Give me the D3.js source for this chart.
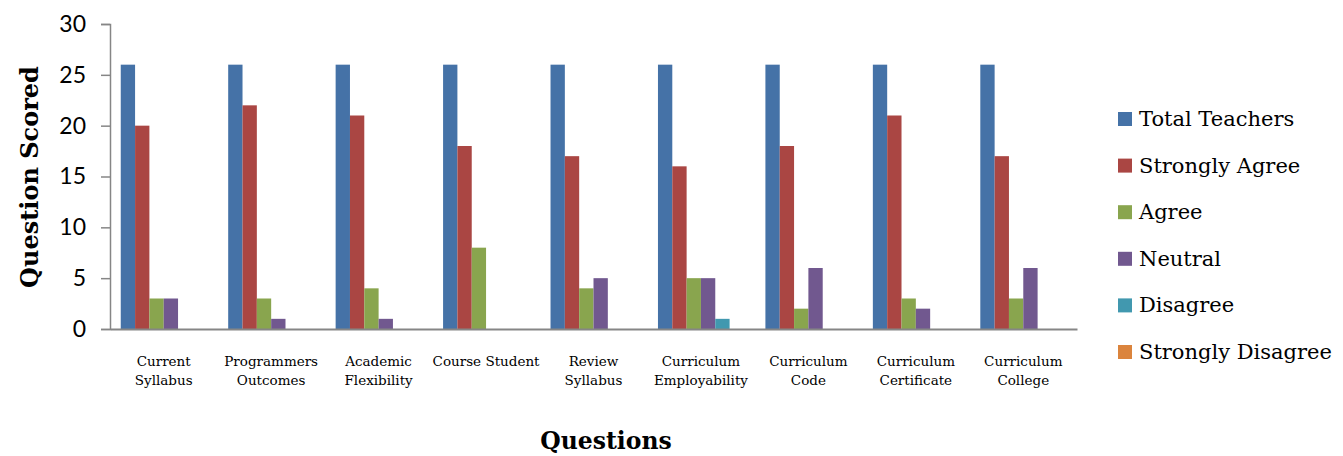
<!DOCTYPE html>
<html><head><meta charset="utf-8">
<script src="https://cdn.jsdelivr.net/npm/d3@7"></script>
<style>body{margin:0;background:#fff}svg{display:block}</style>
</head><body><svg id="c" width="1343" height="456"></svg>
<script>
const categories = [["Current","Syllabus"],["Programmers","Outcomes"],["Academic","Flexibility"],["Course Student"],["Review","Syllabus"],["Curriculum","Employability"],["Curriculum","Code"],["Curriculum","Certificate"],["Curriculum","College"]];
const seriesNames = ["Total Teachers","Strongly Agree","Agree","Neutral","Disagree","Strongly Disagree"];
const totalTeachers = [26,26,26,26,26,26,26,26,26];
const stronglyAgree = [20,22,21,18,17,16,18,21,17];
const agree = [3,3,4,8,4,5,2,3,3];
const neutral = [3,1,1,0,5,5,6,2,6];
const disagree = [0,0,0,0,0,1,0,0,0];
const stronglyDisagree = [0,0,0,0,0,0,0,0,0];
const yTicks = [0,5,10,15,20,25,30];
const colors = ["#4572A7","#AA4643","#89A54E","#71588F","#4198AF","#DB843D"];
const seriesValues = [totalTeachers,stronglyAgree,agree,neutral,disagree,stronglyDisagree];

const svg = d3.select("#c");
const L=110, R=1077, T=24, B=329;
const x0 = d3.scaleBand().domain(d3.range(categories.length)).range([L,R]).padding(0);
const bw = x0.bandwidth();
const w = bw/7.5;
const x1 = d3.scaleBand().domain(d3.range(seriesNames.length)).range([0.75*w, bw-0.75*w]).padding(0);
const y = d3.scaleLinear().domain([0,30]).range([B,T]);

// bars
const g = svg.append("g");
categories.forEach((c,i)=>{
  seriesValues.forEach((vals,s)=>{
    if(vals[i]<=0) return;
    g.append("rect").attr("x",x0(i)+x1(s)).attr("y",y(vals[i]))
      .attr("width",x1.bandwidth()).attr("height",y(0)-y(vals[i]))
      .attr("fill",colors[s]);
  });
});

// y axis
const ya = d3.axisLeft(y).tickValues(yTicks).tickSize(9).tickPadding(15);
const yg = svg.append("g").attr("transform",`translate(${L},0)`).call(ya);
yg.select(".domain").attr("stroke","#868686").attr("stroke-width",1.5);
yg.selectAll(".tick line").attr("stroke","#868686").attr("stroke-width",1.5);
yg.selectAll(".tick text").attr("font-family","Lato, 'Open Sans', sans-serif").attr("font-size",23).attr("fill","#000");

// x axis
const xa = d3.axisBottom(x0).tickSize(0).tickFormat("");
const xg = svg.append("g").attr("transform",`translate(0,${B})`).call(xa);
xg.select(".domain").attr("stroke","#868686").attr("stroke-width",2);

// category labels
categories.forEach((c,i)=>{
  const t = svg.append("text").attr("x",x0(i)+bw/2).attr("y",366).attr("text-anchor","middle")
    .attr("font-family","'DejaVu Serif', serif").attr("font-size",13.5).attr("fill","#000");
  c.forEach((line,k)=>{
    t.append("tspan").attr("x",x0(i)+bw/2).attr("dy",k===0?0:18.5).text(line);
  });
});

// axis titles
svg.append("text").attr("transform","translate(31,177) rotate(-90)").attr("text-anchor","middle")
  .attr("dominant-baseline","middle")
  .attr("font-family","'DejaVu Serif', serif").attr("font-weight","bold").attr("font-size",24).text("Question Scored");
svg.append("text").attr("x",606).attr("y",449).attr("text-anchor","middle")
  .attr("font-family","'DejaVu Serif', serif").attr("font-weight","bold").attr("font-size",23.5).text("Questions");

// legend
seriesNames.forEach((n,s)=>{
  const cy = 119 + s*46.6;
  svg.append("rect").attr("x",1118).attr("y",cy-7).attr("width",14).attr("height",14).attr("fill",colors[s]);
  svg.append("text").attr("x",1139).attr("y",cy).attr("dominant-baseline","central")
    .attr("font-family","'DejaVu Serif', serif").attr("font-size",21).attr("fill","#000").text(n);
});
</script></body></html>
